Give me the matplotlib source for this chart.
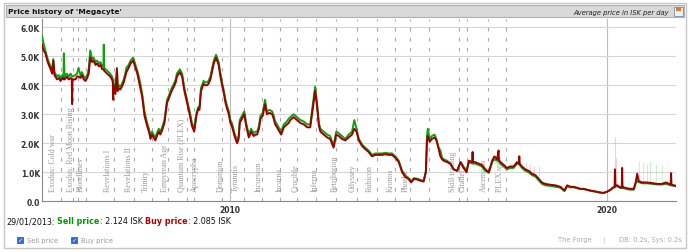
import numpy as np
import matplotlib.pyplot as plt
from matplotlib.patches import Rectangle

# ---- daily average price (thousands of ISK) ----
years = [2005.00, 2005.04, 2005.09, 2005.14, 2005.18, 2005.23, 2005.27, 2005.30, 2005.33, 2005.40,
         2005.45, 2005.49, 2005.54, 2005.57, 2005.58, 2005.60, 2005.66, 2005.71, 2005.76, 2005.79,
         2005.80, 2005.81, 2005.89, 2005.93, 2005.97, 2006.02, 2006.06, 2006.11, 2006.15, 2006.20,
         2006.24, 2006.28, 2006.33, 2006.37, 2006.42, 2006.46, 2006.51, 2006.55, 2006.60, 2006.63,
         2006.64, 2006.65, 2006.69, 2006.73, 2006.77, 2006.81, 2006.86, 2006.88, 2006.89, 2006.90,
         2006.95, 2006.99, 2007.01, 2007.04, 2007.08, 2007.12, 2007.17, 2007.21, 2007.24, 2007.30,
         2007.35, 2007.42, 2007.48, 2007.53, 2007.57, 2007.62, 2007.66, 2007.72, 2007.79, 2007.84,
         2007.88, 2007.92, 2007.96, 2008.01, 2008.05, 2008.10, 2008.14, 2008.19, 2008.25, 2008.32,
         2008.37, 2008.41, 2008.46, 2008.50, 2008.55, 2008.58, 2008.66, 2008.72, 2008.78, 2008.85,
         2008.92, 2008.98, 2009.04, 2009.10, 2009.15, 2009.18, 2009.22, 2009.29, 2009.33, 2009.38,
         2009.42, 2009.47, 2009.52, 2009.56, 2009.62, 2009.69, 2009.73, 2009.78, 2009.83, 2009.87,
         2009.91, 2009.96, 2010.00, 2010.04, 2010.08, 2010.11, 2010.15, 2010.18, 2010.22, 2010.25,
         2010.31, 2010.37, 2010.42, 2010.49, 2010.55, 2010.62, 2010.67, 2010.71, 2010.76, 2010.80,
         2010.86, 2010.92, 2010.97, 2011.04, 2011.11, 2011.15, 2011.19, 2011.24, 2011.28, 2011.35,
         2011.42, 2011.50, 2011.55, 2011.59, 2011.68, 2011.77, 2011.86, 2011.95, 2012.04, 2012.12,
         2012.19, 2012.25, 2012.30, 2012.35, 2012.39, 2012.48, 2012.57, 2012.65, 2012.74, 2012.81,
         2012.88, 2012.96, 2013.05, 2013.14, 2013.23, 2013.29, 2013.35, 2013.41, 2013.50, 2013.58,
         2013.67, 2013.76, 2013.85, 2013.94, 2014.03, 2014.12, 2014.20, 2014.29, 2014.38, 2014.47,
         2014.56, 2014.65, 2014.73, 2014.80, 2014.87, 2014.96, 2015.04, 2015.13, 2015.19, 2015.22,
         2015.24, 2015.29, 2015.35, 2015.42, 2015.47, 2015.53, 2015.575, 2015.62, 2015.66, 2015.75,
         2015.84, 2015.93, 2016.02, 2016.11, 2016.19, 2016.27, 2016.33, 2016.42, 2016.43, 2016.44,
         2016.50, 2016.59, 2016.68, 2016.77, 2016.86, 2016.95, 2017.01, 2017.08, 2017.12, 2017.13,
         2017.17, 2017.26, 2017.34, 2017.43, 2017.52, 2017.61, 2017.66, 2017.67, 2017.68, 2017.74,
         2017.83, 2017.92, 2018.01, 2018.10, 2018.19, 2018.27, 2018.36, 2018.50, 2018.63, 2018.76,
         2018.87, 2018.94, 2019.03, 2019.11, 2019.20, 2019.29, 2019.38, 2019.47, 2019.56, 2019.65,
         2019.73, 2019.82, 2019.91, 2020.00, 2020.09, 2020.16, 2020.20, 2020.21, 2020.22, 2020.27,
         2020.35, 2020.39, 2020.40, 2020.41, 2020.44, 2020.53, 2020.62, 2020.71, 2020.76, 2020.80,
         2020.84, 2020.93, 2021.06, 2021.19, 2021.33, 2021.46, 2021.56, 2021.69, 2021.70, 2021.71,
         2021.81]

buy_price = [5.40, 5.20, 5.10, 4.85, 4.70, 4.55, 4.40, 4.85, 4.35, 4.20,
             4.25, 4.15, 4.25, 4.20, 4.25, 4.20, 4.30, 4.20, 4.25, 4.20,
             3.35, 4.20, 4.20, 4.30, 4.30, 4.25, 4.35, 4.20, 4.15, 4.25,
             4.40, 4.95, 4.80, 4.85, 4.70, 4.75, 4.65, 4.70, 4.55, 4.55,
             4.55, 4.50, 4.45, 4.40, 4.35, 4.30, 4.20, 4.10, 3.50, 4.00,
             3.70, 4.55, 3.80, 3.90, 3.85, 3.95, 4.10, 4.30, 4.45, 4.60,
             4.75, 4.85, 4.60, 4.40, 4.15, 3.85, 3.60, 2.95, 2.60, 2.40,
             2.15, 2.30, 2.20, 2.10, 2.25, 2.40, 2.30, 2.45, 2.70, 3.40,
             3.55, 3.70, 3.85, 3.95, 4.10, 4.30, 4.45, 4.30, 3.80, 3.40,
             3.00, 2.60, 2.40, 2.95, 3.20, 3.15, 3.80, 4.05, 4.00, 4.00,
             4.05, 4.20, 4.50, 4.75, 4.95, 4.70, 4.35, 4.00, 3.70, 3.40,
             3.20, 3.00, 2.70, 2.60, 2.40, 2.25, 2.10, 2.00, 2.15, 2.70,
             2.85, 3.00, 2.60, 2.20, 2.40, 2.25, 2.30, 2.30, 2.50, 2.85,
             2.95, 3.35, 3.00, 3.05, 3.00, 2.85, 2.65, 2.55, 2.45, 2.30,
             2.55, 2.65, 2.70, 2.80, 2.90, 2.80, 2.70, 2.65, 2.55, 2.55,
             3.20, 3.80, 3.30, 2.60, 2.40, 2.30, 2.20, 2.15, 1.85, 2.30,
             2.25, 2.15, 2.10, 2.20, 2.30, 2.50, 2.40, 2.10, 1.90, 1.80,
             1.70, 1.55, 1.60, 1.60, 1.60, 1.62, 1.60, 1.60, 1.50, 1.35,
             1.00, 0.83, 0.77, 0.65, 0.77, 0.75, 0.71, 0.68, 1.00, 2.10,
             2.25, 2.05, 2.15, 2.20, 2.10, 1.80, 1.55, 1.45, 1.40, 1.35,
             1.30, 1.10, 1.05, 1.35, 1.15, 1.00, 1.40, 1.35, 1.70, 1.35,
             1.35, 1.30, 1.25, 1.10, 1.00, 1.40, 1.55, 1.45, 1.75, 1.40,
             1.35, 1.25, 1.15, 1.20, 1.20, 1.35, 1.30, 1.55, 1.30, 1.20,
             1.10, 1.05, 0.95, 0.90, 0.77, 0.65, 0.60, 0.57, 0.55, 0.50,
             0.37, 0.55, 0.50, 0.50, 0.47, 0.43, 0.43, 0.40, 0.37, 0.35,
             0.33, 0.30, 0.29, 0.33, 0.40, 0.48, 0.50, 1.10, 0.55, 0.55,
             0.48, 0.48, 1.15, 0.48, 0.48, 0.45, 0.43, 0.43, 0.65, 0.95,
             0.70, 0.65, 0.65, 0.63, 0.60, 0.60, 0.65, 0.58, 0.97, 0.57,
             0.54]

sell_price = [5.70, 5.45, 5.20, 4.95, 4.80, 4.65, 4.50, 4.90, 4.45, 4.30,
              4.35, 4.25, 4.35, 4.30, 5.10, 4.30, 4.40, 4.30, 4.40, 4.30,
              4.30, 4.30, 4.35, 4.40, 4.60, 4.35, 4.45, 4.30, 4.25, 4.35,
              4.55, 5.20, 4.90, 4.95, 4.80, 4.85, 4.75, 4.80, 4.65, 4.65,
              5.40, 4.60, 4.55, 4.50, 4.45, 4.40, 4.30, 4.20, 4.15, 4.10,
              3.80, 4.60, 3.90, 4.00, 3.95, 4.05, 4.20, 4.40, 4.60, 4.70,
              4.85, 4.95, 4.70, 4.50, 4.30, 4.00, 3.70, 3.10, 2.70, 2.50,
              2.25, 2.40, 2.30, 2.20, 2.35, 2.50, 2.40, 2.55, 2.80, 3.50,
              3.65, 3.80, 3.95, 4.05, 4.20, 4.40, 4.55, 4.40, 3.90, 3.50,
              3.10, 2.70, 2.50, 3.05, 3.25, 3.25, 3.90, 4.15, 4.10, 4.10,
              4.15, 4.30, 4.60, 4.85, 5.05, 4.80, 4.45, 4.10, 3.80, 3.50,
              3.30, 3.10, 2.80, 2.70, 2.50, 2.35, 2.20, 2.10, 2.25, 2.80,
              2.95, 3.10, 2.70, 2.30, 2.50, 2.35, 2.40, 2.40, 2.60, 2.95,
              3.05, 3.50, 3.10, 3.15, 3.10, 2.95, 2.75, 2.65, 2.55, 2.40,
              2.65, 2.75, 2.85, 2.90, 3.00, 2.90, 2.80, 2.75, 2.65, 2.65,
              3.35, 3.95, 3.40, 2.70, 2.50, 2.40, 2.30, 2.25, 1.90, 2.40,
              2.35, 2.25, 2.15, 2.30, 2.40, 2.80, 2.50, 2.15, 1.95, 1.85,
              1.75, 1.60, 1.65, 1.65, 1.65, 1.67, 1.65, 1.65, 1.55, 1.40,
              1.05, 0.88, 0.80, 0.68, 0.80, 0.78, 0.74, 0.70, 1.05, 2.25,
              2.50, 2.15, 2.25, 2.30, 2.15, 1.85, 1.75, 1.50, 1.45, 1.40,
              1.30, 1.10, 1.05, 1.35, 1.20, 1.05, 1.35, 1.30, 1.35, 1.30,
              1.30, 1.25, 1.20, 1.05, 0.98, 1.35, 1.45, 1.40, 1.40, 1.38,
              1.30, 1.20, 1.10, 1.15, 1.15, 1.30, 1.28, 1.30, 1.25, 1.15,
              1.05, 1.00, 0.90, 0.85, 0.72, 0.60, 0.55, 0.53, 0.50, 0.47,
              0.35, 0.52, 0.48, 0.48, 0.45, 0.42, 0.42, 0.39, 0.36, 0.34,
              0.32, 0.30, 0.29, 0.33, 0.39, 0.46, 0.48, 0.50, 0.50, 0.52,
              0.46, 0.46, 0.48, 0.45, 0.45, 0.42, 0.40, 0.40, 0.62, 0.70,
              0.66, 0.62, 0.62, 0.60, 0.58, 0.58, 0.60, 0.55, 0.57, 0.55,
              0.52]

# faint min/max whiskers
faint_buy_years = [2017.86, 2017.95, 2018.05, 2020.21, 2020.25]
faint_buy_lo = [1.10, 1.05, 0.95, 1.10, 0.55]
faint_buy_hi = [1.35, 1.30, 1.20, 2.20, 1.50]
faint_sell_years = [2018.20, 2020.85, 2020.95, 2021.05, 2021.15, 2021.30, 2021.45]
faint_sell_lo = [0.75, 0.68, 0.64, 0.63, 0.62, 0.59, 0.58]
faint_sell_hi = [1.20, 1.40, 1.35, 1.30, 1.40, 1.30, 1.25]

# expansion release markers
event_years = [2005.51, 2005.81, 2005.96, 2006.18, 2006.92, 2007.45, 2007.93, 2008.35, 2008.86,
               2009.04, 2009.79, 2010.37, 2010.85, 2011.33, 2011.78, 2012.28, 2012.81, 2013.37,
               2013.88, 2014.38, 2014.78, 2015.26, 2016.08, 2016.29, 2016.85, 2017.33]
expansion_names = ['Exodus: Cold war', 'Exodus: Red Moon Rising', 'Bloodlines', 'Revelations I',
                   'Revelations II', 'Trinity', 'Empyrean Age', 'Quantum Rise (PLEX)', 'Apocrypha',
                   'Dominion', 'Tyrannis', 'Incursion', 'Incarna', 'Crucible', 'Inferno',
                   'Retribution', 'Odyssey', 'Rubicon', 'Kronos', 'Phoebe', 'Skill trading',
                   'Citadel', 'Ascension', 'PLEX split']
expansion_years = [2005.30, 2005.76, 2006.02, 2006.75, 2007.30, 2007.77, 2008.26, 2008.70, 2009.07,
                   2009.75, 2010.16, 2010.74, 2011.30, 2011.73, 2012.23, 2012.76, 2013.24, 2013.69,
                   2014.25, 2014.65, 2015.90, 2016.17, 2016.72, 2017.17]

y_ticks = [0, 1, 2, 3, 4, 5, 6]
x_ticks = [2010, 2020]

W, H = 690, 253
plt.rcParams['lines.scale_dashes'] = False


def px(x, y):
    return x / W, 1 - y / H


fig = plt.figure(figsize=(W / 100, H / 100), dpi=100)

# frame + title bar
fig.patches.append(Rectangle(px(4, 249), 682 / W, 245 / H, transform=fig.transFigure,
                             fill=False, edgecolor='#c6c6c6', lw=1))
fig.patches.append(Rectangle(px(6, 18), 678 / W, 12 / H, transform=fig.transFigure,
                             facecolor='#d9d9d9', edgecolor='#b0b0b0', lw=0.8))
fig.patches.append(Rectangle(px(674, 17), 9 / W, 9 / H, transform=fig.transFigure,
                             facecolor='#eef2f8', edgecolor='#7a8aa8', lw=0.6))
fig.patches.append(Rectangle(px(676, 12), 5 / W, 3 / H, transform=fig.transFigure,
                             facecolor='#e07a30', edgecolor='none'))
fig.text(*px(8, 12), "Price history of 'Megacyte'", fontsize=5.4, weight='bold',
         va='center', color='#111111')
fig.text(*px(669, 12.5), 'Average price in ISK per day', fontsize=4.9, style='italic',
         ha='right', va='center', color='#222222')

ax = fig.add_axes([42 / W, 1 - 202.3 / H, (676 - 42) / W, (202.3 - 19.5) / H])
ax.set_xlim(2005.0, 2021.83)
ax.set_ylim(0, 6.3)

for s in ['top', 'right']:
    ax.spines[s].set_visible(False)
ax.spines['left'].set_color('#8a8a8a')
ax.spines['bottom'].set_color('#8a8a8a')
ax.spines['left'].set_linewidth(0.8)
ax.spines['bottom'].set_linewidth(0.8)

ax.set_yticks(y_ticks)
ax.set_yticklabels(['0.0'] + ['{:.1f}K'.format(v) for v in y_ticks[1:]])
ax.set_xticks(x_ticks)
ax.set_xticklabels([str(v) for v in x_ticks])
ax.tick_params(axis='y', length=0, pad=1.5, labelsize=5.5, labelcolor='#333333')
ax.tick_params(axis='x', length=0, pad=3, labelsize=5.5, labelcolor='#333333')
for lab in ax.get_xticklabels() + ax.get_yticklabels():
    lab.set_fontweight('bold')
ax.yaxis.grid(True, color='#d6d6d6', lw=0.8)
ax.xaxis.grid(True, color='#bdbdbd', lw=0.8)
ax.set_axisbelow(True)

for e in event_years:
    ax.axvline(e, color='#a8a8a8', lw=0.8, dashes=(2.6, 4.6), zorder=1)

for name, yr in zip(expansion_names, expansion_years):
    ax.text(yr, 0.35, name, rotation=90, ha='center', va='bottom', fontsize=5.8,
            family='Liberation Serif', color='#9a9a9a', zorder=1, linespacing=1.0)

ax.vlines(faint_buy_years, faint_buy_lo, faint_buy_hi, color='#d08080', alpha=0.35, lw=0.8, zorder=2)
ax.vlines(faint_sell_years, faint_sell_lo, faint_sell_hi, color='#80d080', alpha=0.35, lw=0.8, zorder=2)

ax.plot(years, sell_price, color='#10a010', lw=1.4, zorder=3)
ax.plot(years, buy_price, color='#990000', lw=1.4, zorder=4)

# selected-day readout
t = fig.text(*px(6, 222), '29/01/2013:', fontsize=5.8, va='center', color='#111111')
parts = [('Sell price', '#009900', 'bold'), (': 2.124 ISK', '#111111', 'normal'),
         ('Buy price', '#aa0000', 'bold'), (': 2.085 ISK', '#111111', 'normal')]
for i, (s, c, w) in enumerate(parts):
    gap = 2.0 if i % 2 == 0 else 0
    t = ax.annotate(s, xy=(1, 0), xycoords=t, xytext=(gap, 0), textcoords='offset points',
                    va='bottom', ha='left', fontsize=5.8, color=c, weight=w, annotation_clip=False)

# checkboxes
for bx, label in [(17, 'Sell price'), (71, 'Buy price')]:
    fig.patches.append(Rectangle(px(bx, 244), 6 / W, 6 / H, transform=fig.transFigure,
                                 facecolor='#2f6fd6', edgecolor='#1f4f9f', lw=0.5))
    fig.text(*px(bx + 3, 241), '\u2713', fontsize=4.5, color='white', ha='center',
             va='center', weight='bold')
    fig.text(*px(bx + 10, 241.5), label, fontsize=4.9, color='#9a9a9a', va='center')

fig.text(*px(558, 240.5), 'The Forge', fontsize=4.9, color='#ababab', va='center')
fig.text(*px(603, 240.5), '|', fontsize=4.9, color='#ababab', va='center', ha='center')
fig.text(*px(682, 240.5), 'DB: 0.2s, Sys: 0.2s', fontsize=4.9, color='#ababab', va='center',
         ha='right')

fig.savefig('out.png', dpi=100)
